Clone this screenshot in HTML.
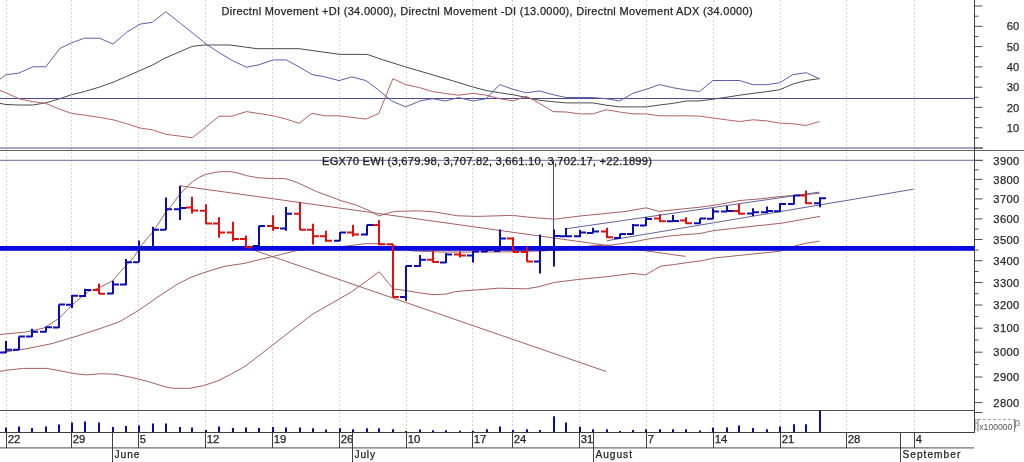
<!DOCTYPE html><html><head><meta charset="utf-8"><style>html,body{margin:0;padding:0;background:#fff;overflow:hidden}svg{display:block}text{font-family:"Liberation Sans",Arial,sans-serif;stroke-width:0.25px;paint-order:stroke}</style></head><body>
<svg width="1024" height="462" viewBox="0 0 1024 462">
<rect width="1024" height="462" fill="#ffffff"/>
<path d="M6.5,0V432 M71.5,0V432 M138.5,0V432 M205.5,0V432 M272.5,0V432 M339.5,0V432 M406.5,0V432 M472.5,0V432 M512.5,0V432 M579.5,0V432 M646.5,0V432 M713.5,0V432 M780.5,0V432 M846.5,0V432 M914.5,0V432" stroke="#d6d6d6" stroke-width="1" stroke-dasharray="2,2" fill="none"/>
<line x1="0" y1="98.5" x2="975" y2="98.5" stroke="#4c4c94" stroke-width="1"/>
<polyline points="0.0,103.4 5.9,104.5 18.8,105.0 32.8,105.0 45.7,102.9 59.8,98.7 71.5,94.7 84.4,91.6 99.6,87.0 113.0,82.3 126.6,76.4 140.1,70.5 152.3,65.2 164.0,58.6 178.0,52.5 192.2,46.4 203.9,45.0 230.0,45.0 257.0,48.7 299.1,48.7 340.1,54.4 367.1,54.4 383.5,60.0 405.8,67.0 433.9,75.2 460.0,83.0 472.9,87.0 486.2,90.5 499.6,92.8 512.9,94.7 526.2,97.5 539.6,100.3 552.9,101.7 566.2,102.9 579.6,102.9 592.9,102.9 606.2,105.2 619.6,106.9 632.9,106.9 646.2,106.9 659.6,105.0 672.9,103.4 686.2,101.0 699.6,100.9 712.9,99.2 726.2,97.3 739.6,95.2 752.9,93.4 766.2,91.7 779.6,89.8 792.9,84.0 806.2,80.5 819.6,78.6" fill="none" stroke="#4a4c4a" stroke-width="1"/>
<polyline points="0.0,90.5 5.9,92.8 18.8,98.7 32.8,101.7 45.7,103.4 59.8,109.2 71.5,113.4 84.4,115.1 99.6,117.4 113.0,119.8 126.6,123.7 140.1,128.0 152.3,129.8 165.9,134.3 180.5,136.2 192.2,137.8 206.2,126.8 219.1,116.2 232.0,116.2 246.4,111.6 258.1,113.4 273.4,115.8 286.2,119.1 299.1,123.3 312.0,113.4 325.0,115.8 339.0,115.8 351.9,117.4 365.9,119.1 378.8,113.4 392.9,78.7 405.8,84.6 419.8,87.7 432.7,91.6 445.6,93.5 458.5,95.2 472.9,93.3 486.2,95.2 499.6,98.7 512.9,101.0 526.2,96.3 539.6,103.4 552.9,111.6 566.2,112.0 579.6,113.9 592.9,113.9 606.2,109.7 619.6,112.0 632.9,113.9 646.2,113.9 659.6,115.8 672.9,115.8 686.2,115.8 699.6,116.1 712.9,118.0 726.2,119.8 739.6,121.5 752.9,119.8 766.2,120.8 779.6,123.1 792.9,123.8 806.2,125.5 819.6,121.5" fill="none" stroke="#b66262" stroke-width="1"/>
<polyline points="0.0,79.2 5.9,74.8 18.8,73.1 32.8,66.8 45.7,66.8 59.8,48.5 71.5,42.9 84.4,38.2 99.6,38.2 113.0,44.1 126.6,32.3 140.1,24.1 152.3,22.3 165.9,11.7 180.5,23.4 194.5,34.5 206.2,44.1 220.3,53.4 233.5,61.2 246.4,67.2 258.1,65.0 273.4,59.9 286.2,59.9 299.1,66.9 312.0,74.5 325.0,76.9 339.0,80.6 351.9,76.9 365.9,80.6 377.6,89.3 391.7,101.0 405.8,106.9 419.8,101.0 432.7,98.7 445.6,101.0 458.5,97.5 472.9,101.0 486.2,98.7 499.6,84.6 512.9,89.3 526.2,92.8 539.6,90.9 552.9,94.7 566.2,97.5 579.6,97.5 592.9,97.5 606.2,98.7 619.6,101.0 632.9,93.3 646.2,89.3 659.6,84.6 672.9,87.7 686.2,90.0 699.6,91.5 712.9,80.5 726.2,80.5 739.6,80.5 752.9,84.7 766.2,84.7 779.6,82.8 792.9,74.6 806.2,72.7 819.6,78.8" fill="none" stroke="#5e5eb0" stroke-width="1"/>
<line x1="0" y1="148" x2="983" y2="148" stroke="#8888ac" stroke-width="1.5"/>
<line x1="0" y1="150.5" x2="1024" y2="150.5" stroke="#606060" stroke-width="1"/>
<line x1="0" y1="160.3" x2="983" y2="160.3" stroke="#6a6a9c" stroke-width="1"/>
<line x1="553.5" y1="160" x2="553.5" y2="232" stroke="#4a4aa8" stroke-width="1"/>
<polyline points="0.0,334.5 26.0,332.0 44.0,328.0 59.0,318.5 72.0,305.0 88.5,291.5 99.5,287.6 112.4,280.8 126.8,264.8 134.4,256.5 140.5,246.7 146.5,239.1 153.3,231.5 166.0,211.8 171.9,205.0 179.7,194.4 187.5,186.2 193.5,181.0 199.6,177.1 205.7,174.5 215.0,172.4 222.0,171.6 230.8,171.7 238.0,173.0 246.4,175.6 258.0,177.8 271.8,178.6 285.5,178.6 297.2,182.5 316.7,191.6 342.1,201.0 355.8,204.9 369.0,210.5 378.8,216.0 387.9,213.0 395.0,211.4 418.6,210.8 434.2,211.9 457.7,215.8 477.2,216.4 512.3,215.4 532.0,217.5 554.0,219.2 560.3,218.5 579.0,216.1 602.5,213.8 626.0,211.4 646.2,207.8 658.8,211.4 680.6,209.1 700.0,207.2 721.8,204.0 740.0,200.5 760.6,198.8 780.0,196.5 800.0,195.0 819.7,193.3" fill="none" stroke="#a66060" stroke-width="1"/>
<polyline points="0.0,371.4 7.0,370.2 23.4,368.4 46.9,368.4 60.9,371.0 75.0,373.7 86.7,374.9 100.8,373.7 114.8,374.2 131.2,377.3 150.0,382.0 164.0,386.6 173.4,388.3 189.8,388.3 203.9,385.5 218.0,380.8 229.7,374.9 240.0,369.1 245.5,366.0 272.7,345.0 312.1,314.5 351.5,291.9 379.2,271.8 393.5,289.0 406.0,290.5 419.0,292.8 433.0,294.6 446.0,294.1 455.4,291.6 473.1,290.2 498.5,288.2 526.4,288.8 539.1,286.7 554.4,282.4 577.2,279.6 607.7,276.6 633.0,273.4 645.7,274.9 661.0,266.0 673.7,264.6 690.0,262.2 700.0,261.0 715.2,257.9 752.0,254.1 779.7,251.3 795.4,245.8 807.3,243.0 819.5,241.2" fill="none" stroke="#a66060" stroke-width="1"/>
<polyline points="0.0,352.7 2.0,352.4 4.0,352.1 6.0,351.8 8.0,351.5 10.0,351.2 12.0,350.9 14.0,350.6 16.0,350.3 18.0,350.0 20.0,349.7 22.0,349.4 24.0,349.1 26.0,348.8 28.0,348.4 30.0,348.0 32.0,347.6 34.0,347.2 36.0,346.8 38.0,346.4 40.0,346.0 42.0,345.6 44.0,345.2 46.0,344.8 48.0,344.4 50.0,344.0 52.0,343.6 54.0,343.0 56.0,342.4 58.0,341.8 60.0,341.2 62.0,340.6 64.0,340.0 66.0,339.4 68.0,338.8 70.0,338.2 72.0,337.6 74.0,337.0 76.0,336.4 78.0,335.8 80.0,335.1 82.0,334.5 84.0,333.8 86.0,333.2 88.0,332.5 90.0,331.9 92.0,331.2 94.0,330.6 96.0,329.9 98.0,329.3 100.0,328.6 102.0,327.9 104.0,327.2 106.0,326.5 108.0,325.8 110.0,325.1 112.0,324.4 114.0,323.7 116.0,323.0 118.0,322.3 120.0,321.5 122.0,320.3 124.0,319.1 126.0,317.9 128.0,316.7 130.0,315.5 132.0,314.3 134.0,313.1 136.0,311.9 138.0,310.7 140.0,309.4 142.0,308.0 144.0,306.6 146.0,305.2 148.0,303.8 150.0,302.4 152.0,301.0 154.0,299.6 156.0,298.2 158.0,296.8 160.0,295.5 162.0,294.2 164.0,292.9 166.0,291.6 168.0,290.3 170.0,289.0 172.0,287.7 174.0,286.4 176.0,285.1 178.0,283.8 180.0,282.8 182.0,281.8 184.0,280.8 186.0,279.8 188.0,278.8 190.0,277.8 192.0,276.9 194.0,276.2 196.0,275.4 198.0,274.7 200.0,274.0 202.0,273.3 204.0,272.6 206.0,272.0 208.0,271.4 210.0,270.7 212.0,270.1 214.0,269.5 216.0,268.9 218.0,268.3 220.0,267.7 222.0,267.1 224.0,266.5 226.0,266.1 228.0,265.8 230.0,265.5 232.0,265.2 234.0,264.9 236.0,264.6 238.0,264.3 240.0,264.0 242.0,263.7 244.0,263.4 246.0,263.0 248.0,262.5 250.0,262.0 252.0,261.5 254.0,261.0 256.0,260.5 258.0,260.0 260.0,259.5 262.0,259.0 264.0,258.6 266.0,258.1 268.0,257.6 270.0,257.2 272.0,256.7 274.0,256.2 276.0,255.7 278.0,255.2 280.0,254.7 282.0,254.2 284.0,253.7 286.0,253.2 288.0,252.7 290.0,252.2 292.0,251.7 294.0,251.2 296.0,250.7 298.0,250.4 300.0,250.2 302.0,250.0 304.0,249.8 306.0,249.5 308.0,249.3 310.0,249.1 312.0,248.9 314.0,248.7 316.0,248.4 318.0,248.2 320.0,248.0 322.0,247.9 324.0,247.7 326.0,247.6 328.0,247.4 330.0,247.3 332.0,247.1 334.0,247.0 336.0,246.8 338.0,246.7 340.0,246.6 342.0,246.4 344.0,246.3 346.0,246.1 348.0,245.9 350.0,245.6 352.0,245.4 354.0,245.1 356.0,244.9 358.0,244.6 360.0,244.4 362.0,244.1 364.0,243.9 366.0,243.6 368.0,243.6 370.0,243.6 372.0,243.6 374.0,243.6 376.0,243.6 378.0,243.6 380.0,243.8 382.0,244.0 384.0,244.2 386.0,244.3 388.0,244.5 390.0,244.7 392.0,245.0 394.0,245.6 396.0,246.2 398.0,246.8 400.0,247.4 402.0,248.0 404.0,248.6 406.0,249.1 408.0,249.7 410.0,250.3 412.0,250.9 414.0,251.0 416.0,251.1 418.0,251.1 420.0,251.2 422.0,251.3 424.0,251.4 426.0,251.4 428.0,251.5 430.0,251.6 432.0,251.7 434.0,251.8 436.0,251.8 438.0,251.9 440.0,252.0 442.0,252.0 444.0,252.0 446.0,252.0 448.0,252.0 450.0,252.0 452.0,252.0 454.0,252.0 456.0,252.0 458.0,252.0 460.0,252.0 462.0,252.0 464.0,252.0 466.0,252.0 468.0,252.0 470.0,252.0 472.0,252.0 474.0,252.0 476.0,252.0 478.0,252.0 480.0,252.0 482.0,252.0 484.0,252.0 486.0,252.0 488.0,252.0 490.0,252.0 492.0,252.0 494.0,252.0 496.0,252.0 498.0,252.0 500.0,252.0 502.0,251.9 504.0,251.9 506.0,251.8 508.0,251.8 510.0,251.8 512.0,251.7 514.0,251.7 516.0,251.6 518.0,251.6 520.0,251.5 522.0,251.4 524.0,251.4 526.0,251.3 528.0,251.3 530.0,251.2 532.0,251.2 534.0,251.2 536.0,251.1 538.0,251.1 540.0,251.0 542.0,250.9 544.0,250.8 546.0,250.7 548.0,250.6 550.0,250.5 552.0,250.4 554.0,250.3 556.0,250.2 558.0,250.1 560.0,250.0 562.0,249.7 564.0,249.5 566.0,249.2 568.0,248.9 570.0,248.7 572.0,248.4 574.0,248.1 576.0,247.9 578.0,247.6 580.0,247.3 582.0,247.1 584.0,246.8 586.0,246.5 588.0,246.3 590.0,246.0 592.0,245.8 594.0,245.7 596.0,245.6 598.0,245.5 600.0,245.5 602.0,245.4 604.0,245.3 606.0,245.2 608.0,245.2 610.0,245.1 612.0,245.0 614.0,244.7 616.0,244.4 618.0,244.1 620.0,243.9 622.0,243.6 624.0,243.3 626.0,243.0 628.0,242.7 630.0,242.4 632.0,242.2 634.0,241.9 636.0,241.5 638.0,241.1 640.0,240.6 642.0,240.2 644.0,239.8 646.0,239.4 648.0,239.0 650.0,238.7 652.0,238.4 654.0,238.1 656.0,237.9 658.0,237.6 660.0,237.3 662.0,237.1 664.0,236.8 666.0,236.5 668.0,236.2 670.0,236.0 672.0,235.7 674.0,235.5 676.0,235.4 678.0,235.2 680.0,235.0 682.0,234.9 684.0,234.7 686.0,234.6 688.0,234.4 690.0,234.3 692.0,234.1 694.0,234.0 696.0,233.8 698.0,233.7 700.0,233.5 702.0,233.1 704.0,232.7 706.0,232.2 708.0,231.8 710.0,231.4 712.0,231.0 714.0,230.6 716.0,230.3 718.0,230.1 720.0,229.9 722.0,229.7 724.0,229.5 726.0,229.2 728.0,229.0 730.0,228.8 732.0,228.6 734.0,228.3 736.0,228.1 738.0,227.9 740.0,227.7 742.0,227.4 744.0,227.2 746.0,227.0 748.0,226.8 750.0,226.6 752.0,226.3 754.0,226.1 756.0,225.9 758.0,225.7 760.0,225.5 762.0,225.3 764.0,225.1 766.0,224.9 768.0,224.7 770.0,224.4 772.0,224.2 774.0,224.0 776.0,223.8 778.0,223.6 780.0,223.4 782.0,223.1 784.0,222.8 786.0,222.4 788.0,222.0 790.0,221.7 792.0,221.3 794.0,221.0 796.0,220.6 798.0,220.3 800.0,219.9 802.0,219.5 804.0,219.2 806.0,218.8 808.0,218.5 810.0,218.1 812.0,217.7 814.0,217.4 816.0,217.0 818.0,216.7 820.0,216.4" fill="none" stroke="#a66060" stroke-width="1"/>
<line x1="180.3" y1="185.8" x2="685.5" y2="256.4" stroke="#a66060" stroke-width="1"/>
<line x1="246.25" y1="247.5" x2="606.1" y2="371.5" stroke="#a66060" stroke-width="1"/>
<line x1="566.6" y1="228.7" x2="819.4" y2="192.1" stroke="#62629e" stroke-width="1"/>
<line x1="607" y1="240.7" x2="913.6" y2="189.2" stroke="#62629e" stroke-width="1"/>
<rect x="0" y="246" width="975" height="4.8" fill="#0a0ae0"/>
<path d="M6,340.9V353.2M0,352.6H6M6,349.7H12M19,336.4V350.0M13,349.7H19M19,336.4H25M32,328.8V337.0M26,336.4H32M32,331.8H38M46,326.6V332.5M40,331.8H46M46,327.3H52M59,304.5V327.9M53,327.5H59M59,304.5H65M72,295.1V308.0M66,304.8H72M72,295.7H78M85,288.8V297.0M79,296.1H85M85,290.1H91M113,280.8V294.0M107,293.5H113M113,284.4H119M126,259.0V285.3M120,284.4H126M126,262.3H132M139,240.4V262.3M133,262.3H139M139,248.6H145M153,226.8V247.3M147,247.3H153M153,229.7H159M166,197.5V229.7M160,229.7H166M166,209.2H172M180,185.8V220.0M174,209.2H180M180,207.9H186M259,225.7V247.1M253,246.0H259M259,226.1H265M286,207.0V230.8M280,228.4H286M286,213.8H292M340,232.0V241.1M334,240.7H340M340,232.4H346M367,224.8V235.4M361,234.6H367M367,225.1H373M406,265.7V300.8M400,296.9H406M406,266.1H412M420,255.0V266.7M414,266.1H420M420,259.8H426M446,252.9V262.9M440,262.4H446M446,254.6H452M473,251.0V262.4M467,255.5H473M473,251.6H479M487,247.5V252.0M481,251.6H487M487,250.0H493M500,229.5V251.0M494,251.0H500M500,238.4H506M540,234.6V273.5M534,261.4H540M540,250.0H546M554,229.4V266.6M548,248.4H554M554,236.1H560M566,228.0V237.2M560,236.2H566M566,236.2H572M580,229.9V237.2M574,236.2H580M580,232.6H586M593,227.7V233.3M587,233.0H593M593,231.4H599M620,233.8V238.7M614,238.0H620M620,234.1H626M633,223.9V234.6M627,234.1H633M633,225.3H639M646,217.0V225.8M640,225.5H646M646,218.9H652M673,215.0V221.9M667,221.2H673M673,220.9H679M700,218.4V223.8M694,223.3H700M700,218.6H706M713,208.3V219.0M707,218.8H713M713,211.5H719M727,205.9V211.7M721,211.4H727M727,211.1H733M753,208.3V216.1M747,213.4H753M753,212.2H759M767,206.4V213.2M761,212.2H767M767,211.1H773M780,203.1V211.7M774,211.2H780M780,204.0H786M794,195.0V204.4M788,204.0H794M794,195.5H800M820,197.3V207.2M814,203.3H820M820,198.2H826" stroke="#0c0cb4" stroke-width="2" fill="none"/>
<path d="M99,283.4V294.0M93,290.1H99M99,293.8H105M192,196.8V213.5M186,207.4H192M192,210.6H198M206,204.3V223.8M200,210.8H206M206,223.4H212M219,217.3V237.8M213,223.5H219M219,232.6H225M233,221.8V241.3M227,232.6H233M233,239.1H239M246,235.5V248.0M240,239.1H246M246,247.2H252M273,215.2V230.8M267,226.1H273M273,228.0H279M300,202.1V230.1M294,213.8H300M300,229.8H306M313,223.8V244.4M307,229.8H313M313,236.3H319M326,230.7V241.8M320,236.3H326M326,240.7H332M353,224.8V236.6M347,232.4H353M353,234.6H359M379,219.9V245.2M373,225.1H379M379,244.2H385M393,244.2V296.9M387,244.2H393M393,296.9H399M433,250.5V262.7M427,259.8H433M433,262.1H439M460,251.6V257.5M454,254.6H460M460,255.5H466M513,237.2V252.1M507,238.4H513M513,252.1H519M527,246.8V261.7M521,252.1H527M527,261.6H533M607,227.7V238.2M601,231.4H607M607,237.2H613M660,214.0V221.9M654,218.4H660M660,221.2H666M686,217.3V223.8M680,220.6H686M686,223.3H692M739,203.9V214.2M733,211.1H739M739,213.7H745M806,190.6V203.8M800,195.5H806M806,203.3H812" stroke="#e01010" stroke-width="2" fill="none"/>
<line x1="0" y1="410.5" x2="975" y2="410.5" stroke="#505050" stroke-width="1"/>
<path d="M6,427.5V432M19,426.5V432M32,428V432M46,426.5V432M59,424.5V432M72,422.5V432M85,421.5V432M99,422.5V432M113,427V432M126,426V432M139,425.5V432M153,423.5V432M166,423.5V432M180,427V432M192,427.5V432M206,430V432M219,426.5V432M233,428V432M246,427.5V432M259,428V432M273,427V432M286,427.5V432M300,427.5V432M313,428.25V432M326,429.5V432M340,428.25V432M353,429.25V432M367,428.25V432M379,428.25V432M393,429.25V432M406,431V432M420,429.5V432M433,430.25V432M446,430.25V432M460,430.75V432M473,430.75V432M487,429.25V432M500,426.5V432M513,430V432M527,429.25V432M540,430V432M554,416.25V432M566,422.5V432M580,426.75V432M593,429.25V432M607,429.25V432M620,431V432M633,430V432M646,429.25V432M660,429.25V432M673,429.25V432M686,429.25V432M700,430.5V432M713,427.5V432M727,427.5V432M739,425.5V432M753,428V432M767,429.25V432M780,426.5V432M794,424.25V432M806,424.25V432M820,410.5V432" stroke="#0c0ca0" stroke-width="2" fill="none"/>
<line x1="0" y1="432.5" x2="975" y2="432.5" stroke="#404040" stroke-width="1"/>
<line x1="0" y1="447.8" x2="974" y2="447.8" stroke="#707070" stroke-width="1.2"/>
<text x="7.8" y="442.8" font-size="10.4" fill="#222" stroke="#222" textLength="12.6" lengthAdjust="spacingAndGlyphs">22</text>
<text x="72.8" y="442.8" font-size="10.4" fill="#222" stroke="#222" textLength="12.6" lengthAdjust="spacingAndGlyphs">29</text>
<text x="139.8" y="442.8" font-size="10.4" fill="#222" stroke="#222" textLength="6.2" lengthAdjust="spacingAndGlyphs">5</text>
<text x="206.8" y="442.8" font-size="10.4" fill="#222" stroke="#222" textLength="12.6" lengthAdjust="spacingAndGlyphs">12</text>
<text x="273.8" y="442.8" font-size="10.4" fill="#222" stroke="#222" textLength="12.6" lengthAdjust="spacingAndGlyphs">19</text>
<text x="340.8" y="442.8" font-size="10.4" fill="#222" stroke="#222" textLength="12.6" lengthAdjust="spacingAndGlyphs">26</text>
<text x="407.8" y="442.8" font-size="10.4" fill="#222" stroke="#222" textLength="12.6" lengthAdjust="spacingAndGlyphs">10</text>
<text x="473.8" y="442.8" font-size="10.4" fill="#222" stroke="#222" textLength="12.6" lengthAdjust="spacingAndGlyphs">17</text>
<text x="513.8" y="442.8" font-size="10.4" fill="#222" stroke="#222" textLength="12.6" lengthAdjust="spacingAndGlyphs">24</text>
<text x="580.8" y="442.8" font-size="10.4" fill="#222" stroke="#222" textLength="12.6" lengthAdjust="spacingAndGlyphs">31</text>
<text x="647.8" y="442.8" font-size="10.4" fill="#222" stroke="#222" textLength="6.2" lengthAdjust="spacingAndGlyphs">7</text>
<text x="714.8" y="442.8" font-size="10.4" fill="#222" stroke="#222" textLength="12.6" lengthAdjust="spacingAndGlyphs">14</text>
<text x="781.8" y="442.8" font-size="10.4" fill="#222" stroke="#222" textLength="12.6" lengthAdjust="spacingAndGlyphs">21</text>
<text x="847.8" y="442.8" font-size="10.4" fill="#222" stroke="#222" textLength="12.6" lengthAdjust="spacingAndGlyphs">28</text>
<text x="915.8" y="442.8" font-size="10.4" fill="#222" stroke="#222" textLength="6.2" lengthAdjust="spacingAndGlyphs">4</text>
<text x="114.5" y="458.4" font-size="10.2" fill="#222" stroke="#222" textLength="25.0" lengthAdjust="spacing">June</text>
<text x="354.5" y="458.4" font-size="10.2" fill="#222" stroke="#222" textLength="20.5" lengthAdjust="spacing">July</text>
<text x="595.5" y="458.4" font-size="10.2" fill="#222" stroke="#222" textLength="36.5" lengthAdjust="spacing">August</text>
<text x="902.5" y="458.4" font-size="10.2" fill="#222" stroke="#222" textLength="57.8" lengthAdjust="spacing">September</text>
<path d="M6.5,432V448M71.5,432V448M138.5,432V448M205.5,432V448M272.5,432V448M339.5,432V448M406.5,432V448M472.5,432V448M512.5,432V448M579.5,432V448M646.5,432V448M713.5,432V448M780.5,432V448M846.5,432V448M914.5,432V448M112.5,432V462M352.5,432V462M593.5,432V462M900.5,432V462" stroke="#404040" stroke-width="1" fill="none"/>
<line x1="974.5" y1="0" x2="974.5" y2="432.5" stroke="#404040" stroke-width="1"/>
<text x="1019.3" y="131.8" font-size="11.2" fill="#2a2a2a" stroke="#2a2a2a" text-anchor="end">10</text>
<text x="1019.3" y="111.5" font-size="11.2" fill="#2a2a2a" stroke="#2a2a2a" text-anchor="end">20</text>
<text x="1019.3" y="91.3" font-size="11.2" fill="#2a2a2a" stroke="#2a2a2a" text-anchor="end">30</text>
<text x="1019.3" y="71.0" font-size="11.2" fill="#2a2a2a" stroke="#2a2a2a" text-anchor="end">40</text>
<text x="1019.3" y="50.7" font-size="11.2" fill="#2a2a2a" stroke="#2a2a2a" text-anchor="end">50</text>
<text x="1019.3" y="30.4" font-size="11.2" fill="#2a2a2a" stroke="#2a2a2a" text-anchor="end">60</text>
<text x="1019.3" y="406.7" font-size="11.2" fill="#2a2a2a" stroke="#2a2a2a" text-anchor="end" textLength="26" lengthAdjust="spacing">2800</text>
<text x="1019.3" y="381.1" font-size="11.2" fill="#2a2a2a" stroke="#2a2a2a" text-anchor="end" textLength="26" lengthAdjust="spacing">2900</text>
<text x="1019.3" y="356.3" font-size="11.2" fill="#2a2a2a" stroke="#2a2a2a" text-anchor="end" textLength="26" lengthAdjust="spacing">3000</text>
<text x="1019.3" y="332.3" font-size="11.2" fill="#2a2a2a" stroke="#2a2a2a" text-anchor="end" textLength="26" lengthAdjust="spacing">3100</text>
<text x="1019.3" y="309.1" font-size="11.2" fill="#2a2a2a" stroke="#2a2a2a" text-anchor="end" textLength="26" lengthAdjust="spacing">3200</text>
<text x="1019.3" y="286.6" font-size="11.2" fill="#2a2a2a" stroke="#2a2a2a" text-anchor="end" textLength="26" lengthAdjust="spacing">3300</text>
<text x="1019.3" y="264.8" font-size="11.2" fill="#2a2a2a" stroke="#2a2a2a" text-anchor="end" textLength="26" lengthAdjust="spacing">3400</text>
<text x="1019.3" y="243.6" font-size="11.2" fill="#2a2a2a" stroke="#2a2a2a" text-anchor="end" textLength="26" lengthAdjust="spacing">3500</text>
<text x="1019.3" y="223.0" font-size="11.2" fill="#2a2a2a" stroke="#2a2a2a" text-anchor="end" textLength="26" lengthAdjust="spacing">3600</text>
<text x="1019.3" y="203.0" font-size="11.2" fill="#2a2a2a" stroke="#2a2a2a" text-anchor="end" textLength="26" lengthAdjust="spacing">3700</text>
<text x="1019.3" y="183.5" font-size="11.2" fill="#2a2a2a" stroke="#2a2a2a" text-anchor="end" textLength="26" lengthAdjust="spacing">3800</text>
<text x="1019.3" y="164.5" font-size="11.2" fill="#2a2a2a" stroke="#2a2a2a" text-anchor="end" textLength="26" lengthAdjust="spacing">3900</text>
<path d="M974.5,148.0H982.5M974.5,137.9H978.5M974.5,127.7H982.5M974.5,117.6H978.5M974.5,107.4H982.5M974.5,97.3H978.5M974.5,87.2H982.5M974.5,77.0H978.5M974.5,66.9H982.5M974.5,56.7H978.5M974.5,46.6H982.5M974.5,36.5H978.5M974.5,26.3H982.5M974.5,16.2H978.5M974.5,6.0H982.5M974.5,402.6H982.5M974.5,389.7H978.5M974.5,377.0H982.5M974.5,364.5H978.5M974.5,352.2H982.5M974.5,340.1H978.5M974.5,328.2H982.5M974.5,316.5H978.5M974.5,305.0H982.5M974.5,293.7H978.5M974.5,282.5H982.5M974.5,271.5H978.5M974.5,260.7H982.5M974.5,250.0H978.5M974.5,239.5H982.5M974.5,229.1H978.5M974.5,218.9H982.5M974.5,208.8H978.5M974.5,198.9H982.5M974.5,189.1H978.5M974.5,179.4H982.5M974.5,169.8H978.5M974.5,160.4H982.5M974.5,412.5H982.5" stroke="#505050" stroke-width="1" fill="none"/>
<path d="M978,419V432M1014.5,419V432" stroke="#8a8a8a" stroke-width="1" fill="none"/>
<path d="M978,419.5H1014" stroke="#a0a0a0" stroke-width="1" stroke-dasharray="3,2" fill="none"/>
<rect x="975.5" y="419.5" width="2" height="3" fill="none" stroke="#aaa" stroke-width="0.8"/>
<rect x="975.5" y="423.5" width="2" height="6" fill="none" stroke="#aaa" stroke-width="0.8"/>
<text x="979.3" y="429.8" font-size="8.6" fill="#555" textLength="33" lengthAdjust="spacingAndGlyphs">x100000</text>
<text x="1014.4" y="426.2" font-size="10" fill="#777">p</text>
<text x="221.6" y="14.9" font-size="11" fill="#1e1e1e" stroke="#1e1e1e" textLength="531" lengthAdjust="spacing">Directnl Movement +DI (34.0000), Directnl Movement -DI (13.0000), Directnl Movement ADX (34.0000)</text>
<text x="322" y="165.2" font-size="11.2" fill="#1a1a1a" stroke="#1a1a1a" textLength="330" lengthAdjust="spacing">EGX70 EWI (3,679.98, 3,707.82, 3,661.10, 3,702.17, +22.1899)</text>
</svg></body></html>
